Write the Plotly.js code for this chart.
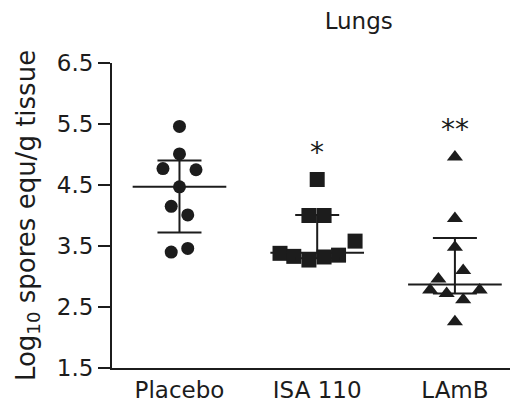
<!DOCTYPE html>
<html>
<head>
<meta charset="utf-8">
<script src="https://cdn.plot.ly/plotly-3.0.1.min.js"></script>
<style>html,body{margin:0;padding:0;background:#fff;}#chart{width:513px;height:412px;}</style>
</head>
<body>
<div id="chart"></div>
<script>
// Categories
const groups = ["Placebo", "ISA 110", "LAmB"];
const symbols = ["circle", "square", "triangle-up"];
const markerSizes = [13, 15, 14];

// Individual values (log10 spores equ/g tissue)
const placeboVals = [5.46, 5.01, 4.77, 4.75, 4.47, 4.15, 4.01, 3.40, 3.46];
const isaVals     = [4.59, 4.00, 4.00, 3.38, 3.33, 3.27, 3.32, 3.35, 3.58];
const lambVals    = [4.96, 3.95, 3.48, 3.10, 2.96, 2.78, 2.72, 2.62, 2.78, 2.26];

// Horizontal scatter offsets (category units) as seen in the picture
const placeboJitter = [0, 0, -0.12, 0.12, 0, -0.06, 0.06, -0.06, 0.06];
const isaJitter     = [0, -0.06, 0.05, -0.27, -0.17, -0.06, 0.05, 0.155, 0.275];
const lambJitter    = [0, 0, 0, 0.06, -0.12, -0.18, -0.06, 0.06, 0.18, 0];

// Central line and spread bars
const centers = [4.47, 3.39, 2.87];
const upper   = [4.90, 4.01, 3.63];
const lower   = [3.72, 3.30, 2.72];

// Significance labels
const sigLabels = ["", "*", "**"];

const yTicks = [1.5, 2.5, 3.5, 4.5, 5.5, 6.5];

const allVals = [placeboVals, isaVals, lambVals];
const allJit = [placeboJitter, isaJitter, lambJitter];
const ink = "#1c1c1c";
const fontFam = "DejaVu Sans, sans-serif";

const traces = [];
allVals.forEach((vals, g) => {
  traces.push({
    type: "scatter", mode: "markers",
    x: vals.map((v, i) => g + allJit[g][i]),
    y: vals,
    marker: {symbol: symbols[g], size: markerSizes[g], color: ink, line: {width: 0}},
    hoverinfo: "y", showlegend: false
  });
});
traces.push({
  type: "scatter", mode: "markers",
  x: groups.map((_, i) => i), y: centers,
  marker: {size: 1, color: "rgba(0,0,0,0)"},
  error_x: {type: "constant", value: 0.34, width: 0, thickness: 2, color: ink},
  error_y: {type: "data", symmetric: false,
    array: upper.map((u, i) => u - centers[i]),
    arrayminus: centers.map((c, i) => c - lower[i]),
    width: 22, thickness: 2, color: ink},
  hoverinfo: "skip", showlegend: false
});

const annotations = [];
sigLabels.forEach((s, g) => {
  if (!s) return;
  annotations.push({
    x: g, y: Math.max(...allVals[g]), xref: "x", yref: "y",
    text: s, showarrow: false, yshift: 27,
    font: {family: fontFam, size: 28, color: ink}
  });
});

const layout = {
  width: 513, height: 412,
  margin: {l: 112, r: 3, t: 63, b: 44},
  paper_bgcolor: "#fff", plot_bgcolor: "#fff",
  font: {family: fontFam, size: 22, color: ink},
  title: {text: "Lungs", x: 318/513, xref: "paper", xanchor: "center", y: 1 - 21/412, yanchor: "middle",
          font: {family: fontFam, size: 23, color: ink}},
  xaxis: {
    range: [-0.49, 2.4], tickvals: [0, 1, 2], ticktext: groups,
    showgrid: false, zeroline: false, showline: true, linecolor: ink, linewidth: 2,
    ticks: "", tickfont: {family: fontFam, size: 23, color: ink}
  },
  yaxis: {
    range: [1.5, 6.5], tickvals: yTicks, ticktext: yTicks.map(v => v.toFixed(1)),
    showgrid: false, zeroline: false, showline: true, linecolor: ink, linewidth: 2,
    ticks: "outside", ticklen: 12, tickwidth: 2, tickcolor: ink,
    tickfont: {family: fontFam, size: 23, color: ink},
    title: {text: "Log<sub>10</sub> spores equ/g tissue", standoff: 14,
            font: {family: fontFam, size: 26, color: ink}}
  },
  annotations: annotations
};

Plotly.newPlot("chart", traces, layout, {displayModeBar: false, staticPlot: true});
</script>
</body>
</html>
